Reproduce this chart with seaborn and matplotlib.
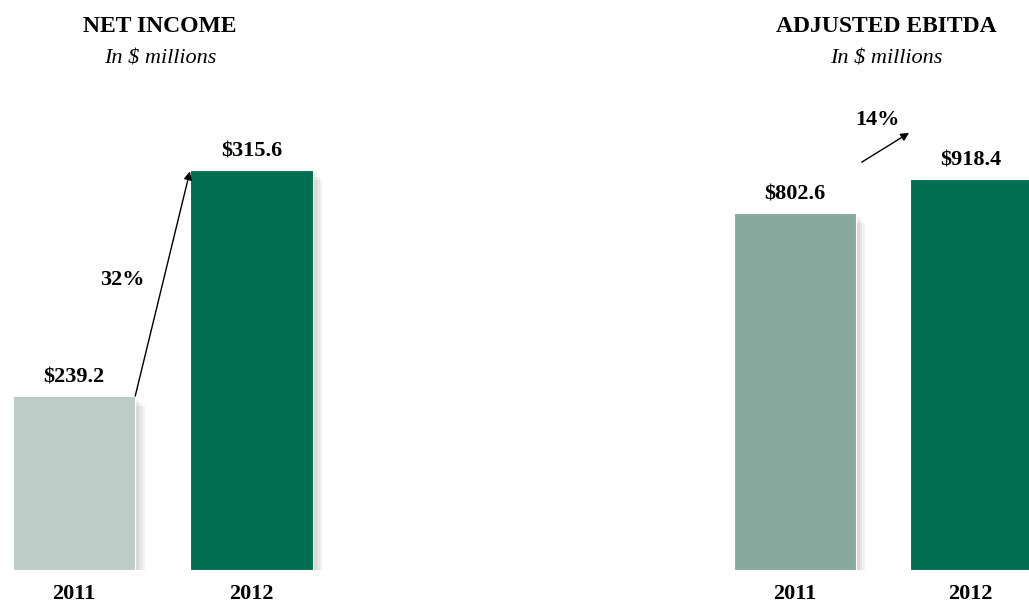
import matplotlib
matplotlib.use("Agg")
import matplotlib.pyplot as plt
import matplotlib.patheffects as pe
import seaborn as sns

# chart data
years = ["2011", "2012"]
net_income = [239.2, 315.6]
ebitda = [802.6, 918.4]
income_colors = ["#BDCCC6", "#006E50"]
ebitda_colors = ["#8AA99E", "#006E50"]
income_growth = "32%"
ebitda_growth = "14%"

sns.set_style("white")
plt.rcParams["font.family"] = ["Liberation Serif", "DejaVu Serif"]
plt.rcParams["text.color"] = "black"
plt.rcParams["xtick.color"] = "black"

W, H = 1029, 602
fig = plt.figure(figsize=(W / 100, H / 100), dpi=100)


def px_axes(left, top, right, bottom):
    return fig.add_axes([left / W, 1 - bottom / H, (right - left) / W, (bottom - top) / H])


def draw_panel(ax, values, colors, xlim, ylim):
    sns.barplot(x=years, y=values, hue=years, palette=colors, legend=False,
                width=0.69, ax=ax, saturation=1)
    shadow = [pe.SimplePatchShadow(offset=(k, -k), shadow_rgbFace="#777777", alpha=0.1)
              for k in (7, 5, 3)]
    for bar, v in zip(ax.patches, values):
        # bars start at the bottom of the visible scale
        bar.set_y(ylim[0])
        bar.set_height(v - ylim[0])
        bar.set_edgecolor("white")
        bar.set_linewidth(0.8)
        bar.set_path_effects(shadow + [pe.Normal()])
    ax.set_xlim(*xlim)
    ax.set_ylim(*ylim)
    ax.set_yticks([])
    ax.set_xlabel("")
    ax.set_ylabel("")
    ax.tick_params(axis="x", length=0, pad=10, labelsize=16, labelcolor="black")
    for lbl in ax.get_xticklabels():
        lbl.set_fontweight("bold")
    sns.despine(ax=ax, left=True, bottom=True)
    for i, v in enumerate(values):
        ax.annotate(f"${v:.1f}", (i, v), xytext=(0, 6), textcoords="offset points",
                    ha="center", va="bottom", fontsize=16, fontweight="bold")


# left panel: net income
ax1 = px_axes(0, 100, 340, 570)
draw_panel(ax1, net_income, income_colors, (-0.417, 1.499), (180.4, 339.3))
ax1.annotate("", xy=(1 - 0.345, net_income[1]), xytext=(0.345, net_income[0]),
             arrowprops=dict(arrowstyle="-|>", color="black", lw=1, mutation_scale=12,
                             shrinkA=0, shrinkB=1))
ax1.text(0.27, (net_income[0] + net_income[1]) / 2 + 1, income_growth,
         ha="center", va="center", fontsize=16, fontweight="bold")

# right panel: adjusted ebitda
ax2 = px_axes(700, 100, 1029, 570)
draw_panel(ax2, ebitda, ebitda_colors, (-0.541, 1.333), (-413.4, 1187.4))
ax2.annotate("", xy=(0.65, ebitda[1] + 157), xytext=(0.38, ebitda[0] + 173),
             arrowprops=dict(arrowstyle="-|>", color="black", lw=1, mutation_scale=12,
                             shrinkA=0, shrinkB=0))
ax2.text(0.47, ebitda[1] + 200, ebitda_growth, ha="center", va="center",
         fontsize=16, fontweight="bold")

# headings
fig.text(160 / W, 1 - 26 / H, "NET INCOME", ha="center", va="center", fontsize=17, fontweight="bold")
fig.text(160 / W, 1 - 59 / H, "In $ millions", ha="center", va="center", fontsize=16, style="italic")
fig.text(886 / W, 1 - 26 / H, "ADJUSTED EBITDA", ha="center", va="center", fontsize=17, fontweight="bold")
fig.text(886 / W, 1 - 59 / H, "In $ millions", ha="center", va="center", fontsize=16, style="italic")

fig.savefig("out.png", dpi=100)
